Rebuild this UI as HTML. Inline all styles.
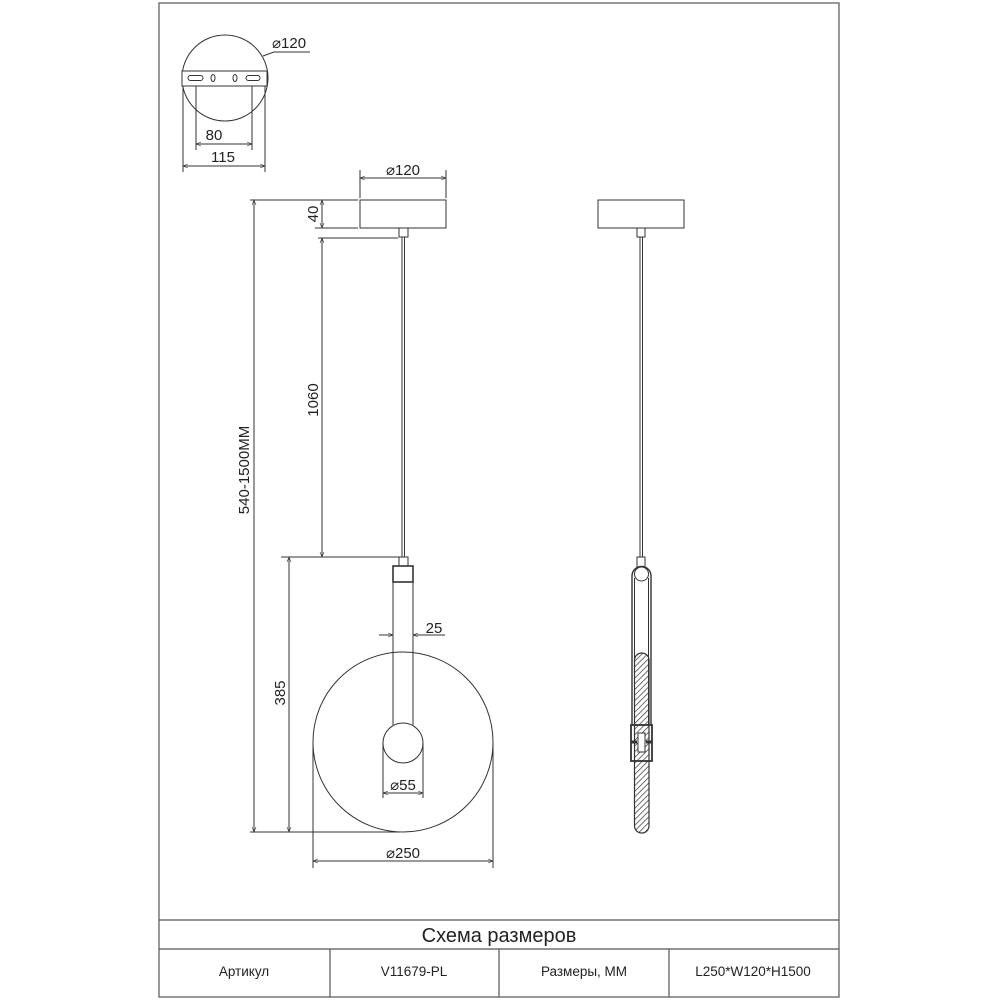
<!DOCTYPE html>
<html><head><meta charset="utf-8"><style>
html,body{margin:0;padding:0;background:#fff;}
svg{display:block;}
text{font-family:"Liberation Sans","DejaVu Sans",sans-serif;fill:#222;}
</style></head><body>
<svg width="1000" height="1000" viewBox="0 0 1000 1000" xmlns="http://www.w3.org/2000/svg">
<defs>
<marker id="a" viewBox="0 0 10 10" refX="10" refY="5" markerWidth="7" markerHeight="5" orient="auto-start-reverse" markerUnits="userSpaceOnUse"><path d="M0,1 L10,5 L0,9" fill="none" stroke="#333" stroke-width="1.2"/></marker>
<pattern id="h" width="4" height="4" patternUnits="userSpaceOnUse" patternTransform="rotate(45)"><line x1="0" y1="0" x2="0" y2="4" stroke="#333" stroke-width="1.4"/></pattern>
</defs>
<g fill="none" stroke="#555" stroke-width="1.2">
<rect x="159" y="3" width="680" height="994"/>
<line x1="159" y1="920" x2="839" y2="920"/>
<line x1="159" y1="949" x2="839" y2="949"/>
<line x1="330" y1="949" x2="330" y2="997"/>
<line x1="499" y1="949" x2="499" y2="997"/>
<line x1="669" y1="949" x2="669" y2="997"/>
</g>
<g fill="none" stroke="#333" stroke-width="1">
<circle cx="225" cy="78" r="43"/>
<rect x="182" y="71" width="85" height="15" fill="#fff"/>
<rect x="188" y="75.5" width="15" height="5" rx="2.5"/>
<rect x="246" y="75.5" width="14" height="5" rx="2.5"/>
<ellipse cx="213" cy="78" rx="2" ry="3.5"/>
<ellipse cx="235" cy="78" rx="2" ry="3.5"/>
<line x1="196" y1="86" x2="196" y2="150"/><line x1="252" y1="86" x2="252" y2="150"/>
<line x1="196" y1="144" x2="252" y2="144" marker-start="url(#a)" marker-end="url(#a)"/>
<line x1="183" y1="86" x2="183" y2="172"/><line x1="265" y1="86" x2="265" y2="172"/>
<line x1="183" y1="166" x2="265" y2="166" marker-start="url(#a)" marker-end="url(#a)"/>
<polyline points="263,56 274,52 310,52"/>
<rect x="360" y="200" width="86" height="28"/>
<line x1="360" y1="170" x2="360" y2="198"/><line x1="446" y1="170" x2="446" y2="198"/>
<line x1="360" y1="178" x2="446" y2="178" marker-start="url(#a)" marker-end="url(#a)"/>
<rect x="399" y="228" width="9" height="9"/>
<line x1="402" y1="237" x2="402" y2="557"/><line x1="404.5" y1="237" x2="404.5" y2="557"/>
<line x1="250" y1="200" x2="358" y2="200"/>
<line x1="315" y1="228" x2="358" y2="228"/>
<line x1="322" y1="200" x2="322" y2="228" marker-start="url(#a)" marker-end="url(#a)"/>
<line x1="318" y1="238" x2="398" y2="238"/>
<line x1="322" y1="238" x2="322" y2="557" marker-start="url(#a)" marker-end="url(#a)"/>
<line x1="281" y1="557" x2="400" y2="557"/>
<line x1="254" y1="200" x2="254" y2="832" marker-start="url(#a)" marker-end="url(#a)"/>
<line x1="289" y1="557" x2="289" y2="832" marker-start="url(#a)" marker-end="url(#a)"/>
<line x1="250" y1="832" x2="400" y2="832"/>
<rect x="399" y="557" width="9" height="9"/>
<rect x="393" y="566" width="20" height="16" stroke-width="1.6"/>
<circle cx="403" cy="742" r="90"/>
<line x1="393" y1="582" x2="393" y2="725"/><line x1="413" y1="582" x2="413" y2="725"/>
<circle cx="403" cy="743" r="20" fill="#fff"/>
<line x1="379" y1="635" x2="393" y2="635" marker-end="url(#a)"/>
<line x1="445" y1="635" x2="413" y2="635" marker-end="url(#a)"/>
<line x1="383" y1="743" x2="383" y2="798"/><line x1="423" y1="743" x2="423" y2="798"/>
<line x1="383" y1="793" x2="423" y2="793" marker-start="url(#a)" marker-end="url(#a)"/>
<line x1="313" y1="742" x2="313" y2="868"/><line x1="493" y1="742" x2="493" y2="868"/>
<line x1="313" y1="861" x2="493" y2="861" marker-start="url(#a)" marker-end="url(#a)"/>
<rect x="598" y="200" width="86" height="28"/>
<rect x="637" y="228" width="8" height="9"/>
<line x1="640" y1="237" x2="640" y2="557"/><line x1="642.5" y1="237" x2="642.5" y2="557"/>
<rect x="637" y="557" width="8" height="10"/>
<path d="M632,725 L632,576 A9.5,9.5 0 0 1 651,576 L651,725" stroke-width="1.4"/>
<path d="M634.5,725 L634.5,578 M648.5,725 L648.5,578"/>
<circle cx="641.5" cy="574" r="7"/>
<rect x="634.5" y="653" width="14.5" height="180" rx="7.2" fill="url(#h)" stroke-width="1.2"/>
<rect x="631" y="725" width="21" height="36" stroke-width="1.8"/>
<rect x="638" y="733" width="7" height="19" fill="#fff"/>
<line x1="631" y1="742" x2="637" y2="742" stroke-width="3"/><line x1="646" y1="742" x2="652" y2="742" stroke-width="3"/>
</g>
<g font-size="15">
<text x="272" y="48">⌀120</text>
<text x="214" y="140" text-anchor="middle">80</text>
<text x="211" y="162">115</text>
<text x="403" y="175" text-anchor="middle">⌀120</text>
<text transform="translate(318,214) rotate(-90)" text-anchor="middle">40</text>
<text transform="translate(318,400) rotate(-90)" text-anchor="middle">1060</text>
<text transform="translate(249,470) rotate(-90)" text-anchor="middle">540-1500MM</text>
<text transform="translate(285,693) rotate(-90)" text-anchor="middle">385</text>
<text x="434" y="633" text-anchor="middle">25</text>
<text x="403" y="790" text-anchor="middle">⌀55</text>
<text x="403" y="858" text-anchor="middle">⌀250</text>
</g>
<text x="499" y="942" font-size="20" text-anchor="middle">Схема размеров</text>
<g font-size="13.5" text-anchor="middle">
<text x="244" y="976">Артикул</text>
<text x="414" y="976">V11679-PL</text>
<text x="584" y="976">Размеры, ММ</text>
<text x="753" y="976">L250*W120*H1500</text>
</g>
</svg>
</body></html>
